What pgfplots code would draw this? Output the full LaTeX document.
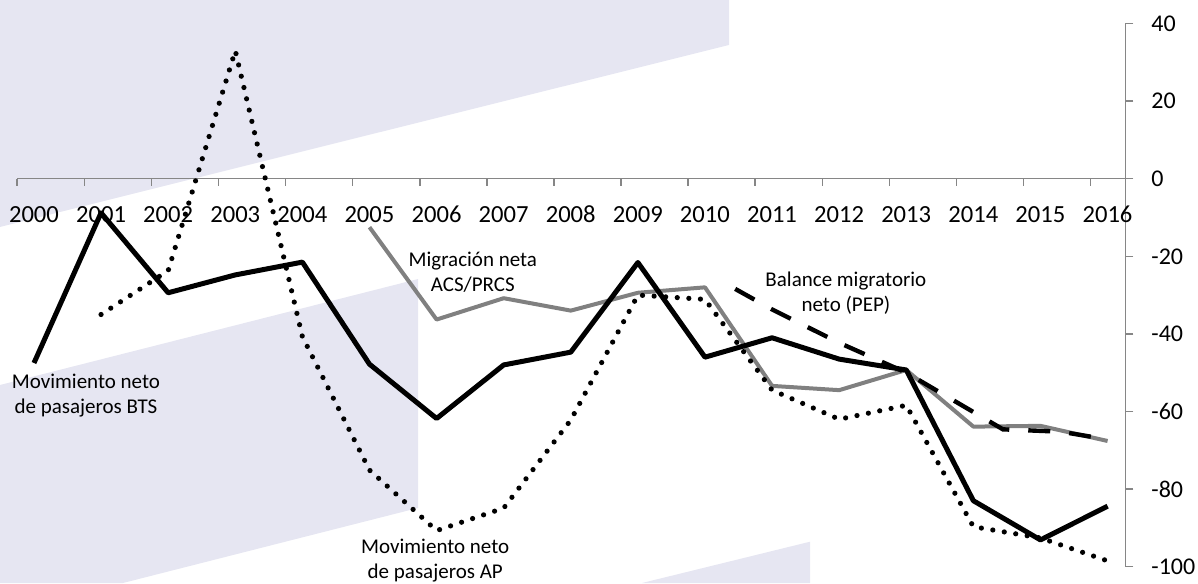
\documentclass[border=0pt]{standalone}
\usepackage{fontspec}
\setmainfont{Carlito}
\usepackage{pgfplots}
\pgfplotsset{compat=1.18}
\definecolor{band}{RGB}{230,230,242}
\definecolor{axgray}{RGB}{134,134,134}
\definecolor{acsgray}{RGB}{128,128,128}
\begin{document}
\begin{tikzpicture}
\useasboundingbox (0,0) rectangle (599pt,291.5pt);
\fill[band] (0pt,291.5pt) -- (364.5pt,291.5pt) -- (364.5pt,269pt) -- (0pt,178pt) -- cycle;
\fill[band] (0pt,99pt) -- (209pt,152pt) -- (209pt,37.5pt) -- (61.5pt,0pt) -- (0pt,0pt) -- cycle;
\fill[band] (321pt,0pt) -- (405pt,20.65pt) -- (405pt,0pt) -- cycle;
\begin{axis}[
  at={(8.6pt,8.15pt)}, anchor=south west,
  scale only axis, width=554.25pt, height=271.6pt,
  xmin=1999.75, xmax=2016.27, ymin=-100, ymax=40,
  axis x line=middle, axis y line=right,
  axis line style={-, draw=axgray, line width=0.75pt},
  xtick={2000,...,2016},
  xticklabels={2000,2001,2002,2003,2004,2005,2006,2007,2008,2009,2010,2011,2012,2013,2014,2015,2016},
  major x tick style={draw=none},
  minor xtick={1999.75,2000.75,...,2015.75},
  minor tick length=3.6pt,
  major tick length=3.85pt,
  tick align=outside,
  tick style={draw=axgray, line width=0.75pt},
  ytick={-100,-80,...,40},
  yticklabels={-100,-80,-60,-40,-20,0,20,40},
  xticklabel style={anchor=center, yshift=-14pt, font=\fontsize{12.3}{14}\selectfont},
  yticklabel style={anchor=west, inner sep=0pt, xshift=8.8pt, font=\fontsize{12}{14}\selectfont},
  clip=false,
]
% ACS/PRCS (gray)
\addplot[acsgray, line width=2pt, line join=round] coordinates {
(2005,-12.5) (2006,-36.3) (2007,-30.8) (2008,-34.0) (2009,-29.4) (2010,-28.0)
(2011,-53.4) (2012,-54.5) (2013,-49.3) (2014,-63.9) (2015,-63.7) (2016,-67.6)};
% AP (dotted)
\addplot[black, line width=2.6pt, line cap=round, dash pattern=on 0pt off 5.8pt] coordinates {
(2001,-35.0) (2002,-23.7) (2003,33.0) (2004,-40.7) (2005,-75.1) (2006,-90.7)
(2007,-84.9) (2008,-62.2) (2009,-30.0) (2010,-31.1) (2011,-54.5) (2012,-62.0)
(2013,-58.4) (2014,-89.7) (2015,-92.6) (2016,-98.5)};
% BTS (solid black)
\addplot[black, line width=2.5pt, line join=round] coordinates {
(2000,-47.5) (2001,-8.8) (2002,-29.4) (2003,-24.8) (2004,-21.5) (2005,-47.8)
(2006,-61.8) (2007,-48.0) (2008,-44.7) (2009,-21.6) (2010,-46.0) (2011,-41.0)
(2012,-46.5) (2013,-49.3) (2014,-83.0) (2015,-93.1) (2016,-84.4)};
% PEP (dashed)
\addplot[black, line width=2.2pt, dash pattern=on 11pt off 9.5pt] coordinates {
(2010.45,-28.4) (2011,-33.7) (2012,-42.3) (2013,-50.0) (2014.44,-64.6) (2015.3,-65.2) (2016,-67.2)};
\node[align=center, font=\fontsize{10.5}{12.5}\selectfont] at (axis cs:2000.775,-55.9) {Movimiento neto\\de pasajeros BTS};
\node[align=center, font=\fontsize{10.5}{12.5}\selectfont] at (axis cs:2006.54,-24.2) {Migración neta\\ACS/PRCS};
\node[align=center, font=\fontsize{10.5}{12.5}\selectfont] at (axis cs:2012.10,-29.5) {Balance migratorio\\neto (PEP)};
\node[align=center, font=\fontsize{10.5}{12.5}\selectfont] at (axis cs:2005.98,-98.3) {Movimiento neto\\de pasajeros AP};
\end{axis}
\end{tikzpicture}
\end{document}
